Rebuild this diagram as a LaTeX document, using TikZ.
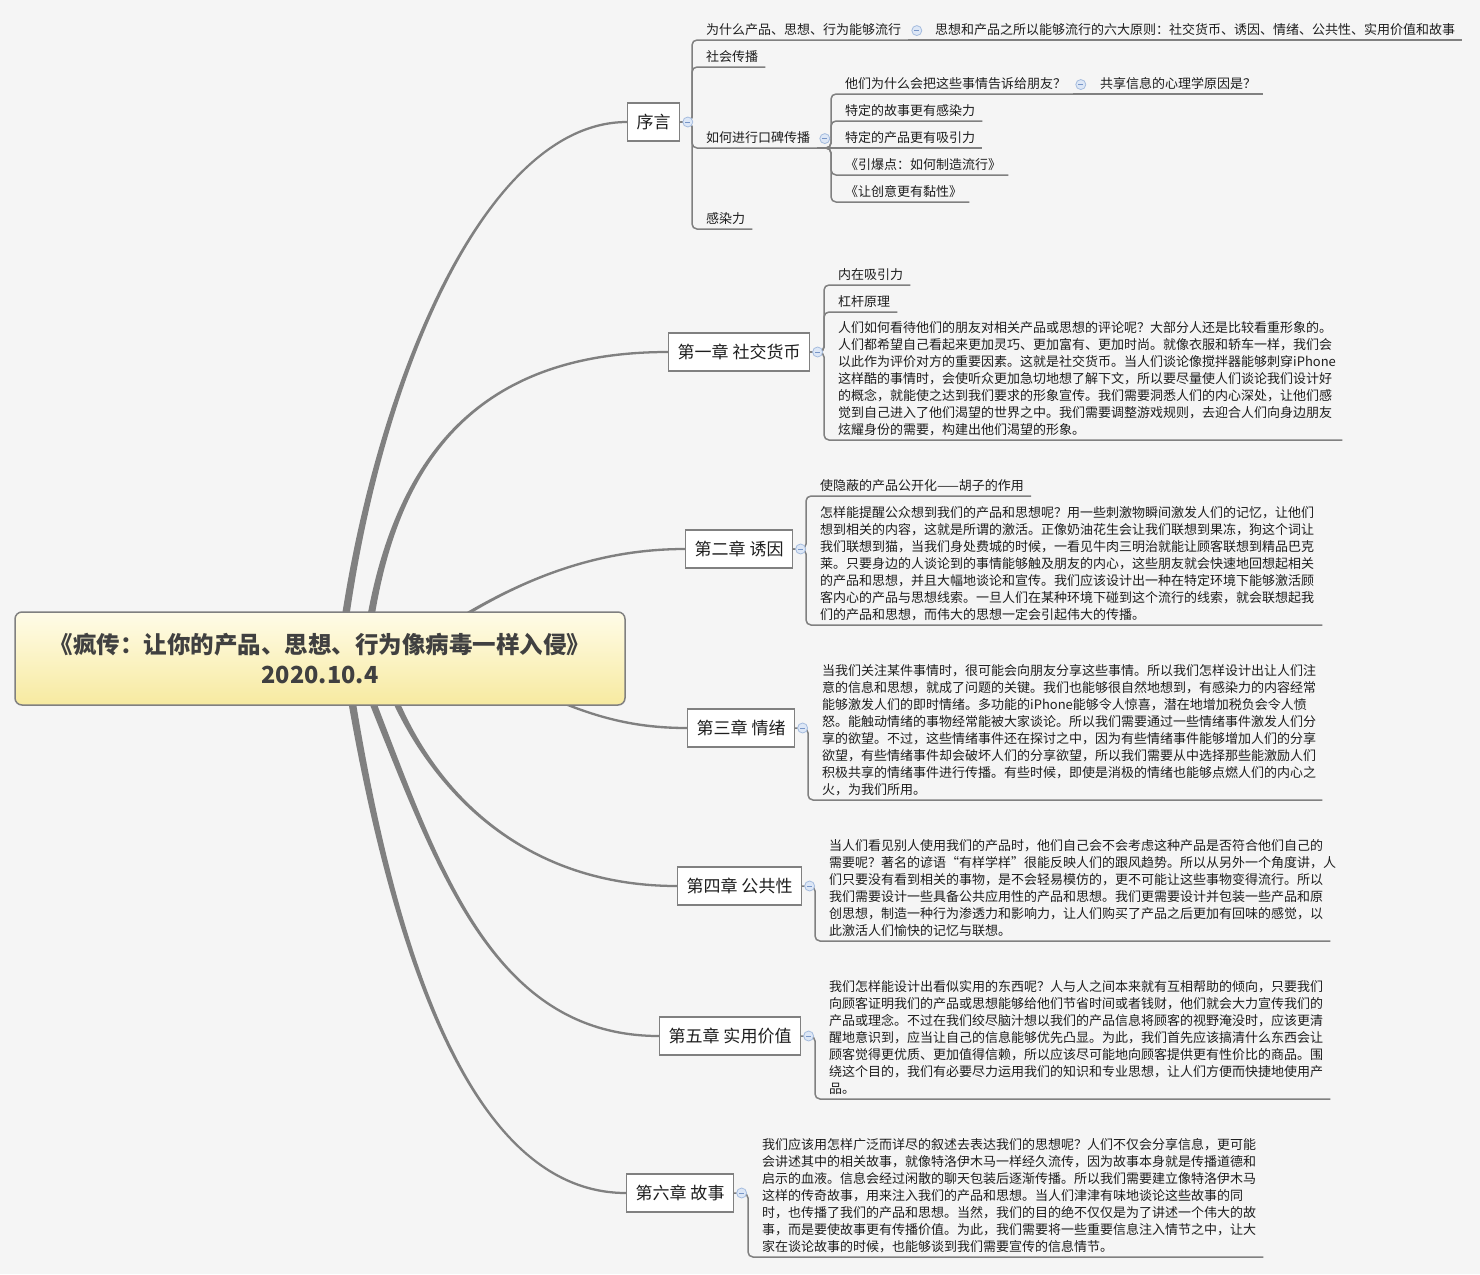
\documentclass[tikz,border=0pt]{standalone}
\usepackage{fontspec}
\setmainfont{Noto Sans CJK SC}
\usepackage{tikz}
\usetikzlibrary{positioning, backgrounds}

\definecolor{mapBg}{RGB}{245, 245, 245}
\definecolor{mapLine}{RGB}{128, 128, 128}
\definecolor{mapText}{RGB}{30, 30, 30}
\definecolor{rootText}{RGB}{64, 64, 64}
\definecolor{rootTop}{RGB}{255, 252, 232}
\definecolor{rootBottom}{RGB}{247, 234, 160}
\definecolor{foldFill}{RGB}{221, 231, 246}
\definecolor{foldEdge}{RGB}{165, 188, 222}
\definecolor{foldMinus}{RGB}{120, 150, 200}

% tapered curve from the centre topic to a chapter
\newcommand{\rootlink}[5]{%
  \fill[mapLine] ([xshift=-4pt]#1) .. controls ([xshift=-2.5pt]#2) and ([yshift={#5*1.6pt}]#3)
    .. ([yshift={#5*1.1pt}]#4) -- ([yshift={-1*(#5)*1.1pt}]#4)
    .. controls ([yshift={-1*(#5)*1.6pt}]#3) and ([xshift=2.5pt]#2) .. ([xshift=4pt]#1) -- cycle;}

\begin{document}
\begin{tikzpicture}[
    x=1pt, y=-1pt,
    rootbox/.style={rectangle, draw=mapLine, line width=1.5pt, rounded corners=7pt,
                    top color=rootTop, bottom color=rootBottom, minimum width=610pt,
                    minimum height=93pt, align=center, text=rootText,
                    font=\fontsize{23.5}{30}\selectfont\bfseries},
    chapter/.style={rectangle, draw=mapLine, line width=1.4pt, fill=white, anchor=west,
                    minimum height=38pt, inner xsep=9pt, text=mapText,
                    font=\fontsize{17}{20}\selectfont},
    leaf/.style={anchor=south west, inner xsep=7pt, inner ysep=2pt, text depth=3.5pt,
                 text=mapText, font=\fontsize{13}{17}\selectfont},
    para/.style={leaf, text depth=, align=left,
                 execute at end node={\rule[-3.5pt]{0pt}{1pt}}},
    fold/.style={circle, draw=foldEdge, fill=foldFill, line width=0.8pt, minimum size=10pt,
                 inner sep=0pt,
                 path picture={\draw[foldMinus, line width=0.9pt]
                   ([xshift=-2.5pt]path picture bounding box.center) --
                   ([xshift=2.5pt]path picture bounding box.center);}},
    branch/.style={draw=mapLine, line width=1.5pt, rounded corners=5pt},
  ]
    \useasboundingbox (0,0) rectangle (1480,1274);

    \node[rootbox] (root) at (320,658.5) {《疯传：让你的产品、思想、行为像病毒一样入侵》\\2020.10.4};

    \node[chapter] (xuyan) at (627,122) {序言};
    \node[chapter] (ch1) at (668,352) {第一章 社交货币};
    \node[chapter] (ch2) at (685,549) {第二章 诱因};
    \node[chapter] (ch3) at (687,728) {第三章 情绪};
    \node[chapter] (ch4) at (677,886) {第四章 公共性};
    \node[chapter] (ch5) at (659,1036) {第五章 实用价值};
    \node[chapter] (ch6) at (626,1193) {第六章 故事};

    % preface
    \node[leaf] (why) at (699,40) {为什么产品、思想、行为能够流行};
    \node[leaf] (six) at (928,40) {思想和产品之所以能够流行的六大原则：社交货币、诱因、情绪、公共性、实用价值和故事};
    \node[leaf] (spread) at (699,67) {社会传播};
    \node[leaf] (hw) at (699,148) {如何进行口碑传播};
    \node[leaf] (infect) at (699,229) {感染力};
    \node[leaf] (tell) at (838,94) {他们为什么会把这些事情告诉给朋友？};
    \node[leaf] (share) at (1093,94) {共享信息的心理学原因是？};
    \node[leaf] (story) at (838,121) {特定的故事更有感染力};
    \node[leaf] (prod) at (838,148) {特定的产品更有吸引力};
    \node[leaf] (tip) at (838,175) {《引爆点：如何制造流行》};
    \node[leaf] (sticky) at (838,202) {《让创意更有黏性》};

    % chapter one
    \node[leaf] (attract) at (831,285) {内在吸引力};
    \node[leaf] (lever) at (831,312) {杠杆原理};
    \node[para, text width=497pt] (p1) at (831,440) {人们如何看待他们的朋友对相关产品或思想的评论呢？大部分人还是比较看重形象的。\\
      人们都希望自己看起来更加灵巧、更加富有、更加时尚。就像衣服和轿车一样，我们会\\
      以此作为评价对方的重要因素。这就是社交货币。当人们谈论像搅拌器能够刺穿iPhone\\
      这样酷的事情时，会使听众更加急切地想了解下文，所以要尽量使人们谈论我们设计好\\
      的概念，就能使之达到我们要求的形象宣传。我们需要洞悉人们的内心深处，让他们感\\
      觉到自己进入了他们渴望的世界之中。我们需要调整游戏规则，去迎合人们向身边朋友\\
      炫耀身份的需要，构建出他们渴望的形象。};

    % chapter two
    \node[leaf] (hidden) at (813,496) {使隐蔽的产品公开化——胡子的作用};
    \node[para, text width=495pt] (p2) at (813,625) {怎样能提醒公众想到我们的产品和思想呢？用一些刺激物瞬间激发人们的记忆，让他们\\
      想到相关的内容，这就是所谓的激活。正像奶油花生会让我们联想到果冻，狗这个词让\\
      我们联想到猫，当我们身处费城的时候，一看见牛肉三明治就能让顾客联想到精品巴克\\
      莱。只要身边的人谈论到的事情能够触及朋友的内心，这些朋友就会快速地回想起相关\\
      的产品和思想，并且大幅地谈论和宣传。我们应该设计出一种在特定环境下能够激活顾\\
      客内心的产品与思想线索。一旦人们在某种环境下碰到这个流行的线索，就会联想起我\\
      们的产品和思想，而伟大的思想一定会引起伟大的传播。};

    % chapter three
    \node[para, text width=493pt] (p3) at (815,800) {当我们关注某件事情时，很可能会向朋友分享这些事情。所以我们怎样设计出让人们注\\
      意的信息和思想，就成了问题的关键。我们也能够很自然地想到，有感染力的内容经常\\
      能够激发人们的即时情绪。多功能的iPhone能够令人惊喜，潜在地增加税负会令人愤\\
      怒。能触动情绪的事物经常能被大家谈论。所以我们需要通过一些情绪事件激发人们分\\
      享的欲望。不过，这些情绪事件还在探讨之中，因为有些情绪事件能够增加人们的分享\\
      欲望，有些情绪事件却会破坏人们的分享欲望，所以我们需要从中选择那些能激励人们\\
      积极共享的情绪事件进行传播。有些时候，即使是消极的情绪也能够点燃人们的内心之\\
      火，为我们所用。};

    % chapter four
    \node[para, text width=494pt] (p4) at (822,941) {当人们看见别人使用我们的产品时，他们自己会不会考虑这种产品是否符合他们自己的\\
      需要呢？著名的谚语“有样学样”很能反映人们的跟风趋势。所以从另外一个角度讲，人\\
      们只要没有看到相关的事物，是不会轻易模仿的，更不可能让这些事物变得流行。所以\\
      我们需要设计一些具备公共应用性的产品和思想。我们更需要设计并包装一些产品和原\\
      创思想，制造一种行为渗透力和影响力，让人们购买了产品之后更加有回味的感觉，以\\
      此激活人们愉快的记忆与联想。};

    % chapter five
    \node[para, text width=494pt] (p5) at (822,1099) {我们怎样能设计出看似实用的东西呢？人与人之间本来就有互相帮助的倾向，只要我们\\
      向顾客证明我们的产品或思想能够给他们节省时间或者钱财，他们就会大力宣传我们的\\
      产品或理念。不过在我们绞尽脑汁想以我们的产品信息将顾客的视野淹没时，应该更清\\
      醒地意识到，应当让自己的信息能够优先凸显。为此，我们首先应该搞清什么东西会让\\
      顾客觉得更优质、更加值得信赖，所以应该尽可能地向顾客提供更有性价比的商品。围\\
      绕这个目的，我们有必要尽力运用我们的知识和专业思想，让人们方便而快捷地使用产\\
      品。};

    % chapter six
    \node[para, text width=494pt] (p6) at (755,1257) {我们应该用怎样广泛而详尽的叙述去表达我们的思想呢？人们不仅会分享信息，更可能\\
      会讲述其中的相关故事，就像特洛伊木马一样经久流传，因为故事本身就是传播道德和\\
      启示的血液。信息会经过闲散的聊天包装后逐渐传播。所以我们需要建立像特洛伊木马\\
      这样的传奇故事，用来注入我们的产品和思想。当人们津津有味地谈论这些故事的同\\
      时，也传播了我们的产品和思想。当然，我们的目的绝不仅仅是为了讲述一个伟大的故\\
      事，而是要使故事更有传播价值。为此，我们需要将一些重要信息注入情节之中，让大\\
      家在谈论故事的时候，也能够谈到我们需要宣传的信息情节。};

    % elbow branches
    \foreach \c in {why, spread, hw, infect}
      \draw[branch] (xuyan.east) -| ([xshift=-7pt]\c.south west) -- (\c.south east);
    \draw[branch] (why.south east) -- (six.south east);
    \foreach \c in {tell, story, tip, sticky}
      \draw[branch] (hw.south east) -| ([xshift=-7pt]\c.south west) -- (\c.south east);
    \draw[branch] (hw.south east) -- (prod.south east);
    \draw[branch] (tell.south east) -- (share.south east);
    \foreach \c in {attract, lever, p1}
      \draw[branch] (ch1.east) -| ([xshift=-7pt]\c.south west) -- (\c.south east);
    \foreach \c in {hidden, p2}
      \draw[branch] (ch2.east) -| ([xshift=-7pt]\c.south west) -- (\c.south east);
    \draw[branch] (ch3.east) -| ([xshift=-7pt]p3.south west) -- (p3.south east);
    \draw[branch] (ch4.east) -| ([xshift=-7pt]p4.south west) -- (p4.south east);
    \draw[branch] (ch5.east) -| ([xshift=-7pt]p5.south west) -- (p5.south east);
    \draw[branch] (ch6.east) -| ([xshift=-7pt]p6.south west) -- (p6.south east);

    % collapse markers
    \foreach \c in {xuyan, ch1, ch2, ch3, ch4, ch5, ch6, hw, tell}
      \node[fold, right=2pt of \c] (f\c) {};
    \node[fold, right=3pt of why] (fwhy) {};

    \coordinate (r0) at ([xshift=20pt]root.center);
    \coordinate (r1) at ([xshift=45pt]root.center);
    \coordinate (r2) at ([xshift=80pt]root.center);
    \coordinate (r3) at ([xshift=150pt]root.center);
    \coordinate (r4) at ([xshift=60pt]root.center);
    \coordinate (r5) at ([xshift=35pt]root.center);
    \coordinate (r6) at ([xshift=25pt]root.center);

    \begin{scope}[on background layer]
      \fill[mapBg] (0,0) rectangle (1480,1274);
      \rootlink{r0}{370,400}{480,122}{xuyan.west}{1}
      \rootlink{r1}{385,480}{460,352}{ch1.west}{1}
      \rootlink{r2}{480,600}{570,549}{ch2.west}{1}
      \rootlink{r3}{560,705}{610,728}{ch3.west}{-1}
      \rootlink{r4}{410,760}{500,886}{ch4.west}{-1}
      \rootlink{r5}{430,840}{480,1036}{ch5.west}{-1}
      \rootlink{r6}{390,950}{470,1193}{ch6.west}{-1}
    \end{scope}
  \end{tikzpicture}
\end{document}
